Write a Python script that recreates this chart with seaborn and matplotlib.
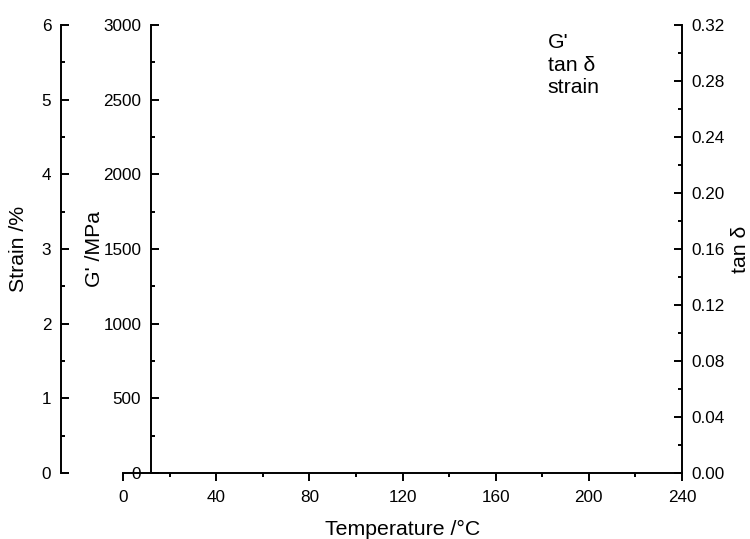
import matplotlib
matplotlib.use("Agg")
import matplotlib.pyplot as plt
import seaborn as sns
from matplotlib.lines import Line2D
from matplotlib.ticker import MultipleLocator, FormatStrFormatter

# Series shown in the reference: the plot area is empty, only axes + legend text
temperature = []
g_prime = []
tan_delta = []
strain = []
series_labels = ["G'", "tan δ", "strain"]

# Axis ranges / ticks
temp_ticks = [0, 40, 80, 120, 160, 200, 240]
g_ticks = [0, 500, 1000, 1500, 2000, 2500, 3000]
strain_ticks = [0, 1, 2, 3, 4, 5, 6]
tan_ticks = [0.00, 0.04, 0.08, 0.12, 0.16, 0.20, 0.24, 0.28, 0.32]

sns.set_theme(style="ticks")
plt.rcParams["font.family"] = ["Liberation Sans", "DejaVu Sans"]
plt.rcParams.update({"text.color": "black", "axes.labelcolor": "black",
                     "xtick.color": "black", "ytick.color": "black"})

W, H = 750, 539
fig = plt.figure(figsize=(W / 100, H / 100), dpi=100)
x0, x1, y0, y1 = 123, 682, 25, 473
aw = x1 - x0
ax = fig.add_axes([x0 / W, (H - y1) / H, aw / W, (y1 - y0) / H])
ax_s = ax.twinx()
ax_t = ax.twinx()

if temperature:
    sns.lineplot(x=temperature, y=g_prime, ax=ax, color="black")
    sns.lineplot(x=temperature, y=tan_delta, ax=ax_t, color="red")
    sns.lineplot(x=temperature, y=strain, ax=ax_s, color="blue")

tick_fs = 12.3
label_fs = 15.3
lw = 1.4

# main axis: temperature + G'
ax.set_xlim(0, 240)
ax.set_ylim(0, 3000)
ax.set_xticks(temp_ticks)
ax.set_yticks(g_ticks)
ax.xaxis.set_minor_locator(MultipleLocator(20))
ax.yaxis.set_minor_locator(MultipleLocator(250))
ax.spines["top"].set_visible(False)
ax.spines["right"].set_visible(False)
ax.spines["left"].set_position(("axes", 28 / aw))
ax.tick_params(axis="x", which="major", direction="out", length=6, width=lw,
               labelsize=tick_fs, color="black", pad=6)
ax.tick_params(axis="x", which="minor", direction="out", length=3, width=lw, color="black")
ax.tick_params(axis="y", which="major", direction="in", length=6, width=lw,
               labelsize=tick_fs, color="black", pad=7)
ax.tick_params(axis="y", which="minor", direction="in", length=3, width=lw, color="black")
ax.set_xlabel("Temperature /°C", fontsize=label_fs)
ax.set_ylabel("G' /MPa", fontsize=label_fs)
ax.xaxis.set_label_coords(0.5, -0.105)
ax.yaxis.set_label_coords((104 - x0) / aw, 0.5)

# strain axis on far left
ax_s.set_ylim(0, 6)
ax_s.set_yticks(strain_ticks)
ax_s.yaxis.set_minor_locator(MultipleLocator(0.5))
ax_s.yaxis.set_ticks_position("left")
ax_s.yaxis.set_label_position("left")
for s in ["top", "right", "bottom"]:
    ax_s.spines[s].set_visible(False)
ax_s.spines["left"].set_visible(True)
ax_s.spines["left"].set_position(("axes", (61 - x0) / aw))
ax_s.tick_params(axis="y", which="major", direction="in", length=6, width=lw,
                 labelsize=tick_fs, color="black", pad=7)
ax_s.tick_params(axis="y", which="minor", direction="in", length=3, width=lw, color="black")
ax_s.set_ylabel("Strain /%", fontsize=label_fs)
ax_s.yaxis.set_label_coords((28 - x0) / aw, 0.5)

# tan delta on the right
ax_t.set_ylim(0, 0.32)
ax_t.set_yticks(tan_ticks)
ax_t.yaxis.set_major_formatter(FormatStrFormatter("%.2f"))
ax_t.yaxis.set_minor_locator(MultipleLocator(0.02))
for s in ["top", "left", "bottom"]:
    ax_t.spines[s].set_visible(False)
ax_t.tick_params(axis="y", which="major", direction="in", length=6, width=lw,
                 labelsize=tick_fs, color="black", pad=7)
ax_t.tick_params(axis="y", which="minor", direction="in", length=3, width=lw, color="black")
ax_t.set_ylabel("tan δ", fontsize=label_fs)
ax_t.yaxis.set_label_coords((731 - x0) / aw, 0.5)

for a in [ax, ax_s, ax_t]:
    for sp in a.spines.values():
        sp.set_linewidth(lw)
        sp.set_color("black")
    a.grid(False)
    a.set_facecolor("none")

# legend: text only (no visible data)
handles = [Line2D([], [], linestyle="none") for _ in series_labels]
ax.legend(handles, series_labels, loc="upper left", bbox_to_anchor=(539 / W, 1 - 25 / H),
          bbox_transform=fig.transFigure, frameon=False, handlelength=0,
          handletextpad=0, fontsize=label_fs, labelspacing=0.15, borderaxespad=0)

fig.savefig("out.png", dpi=100)
